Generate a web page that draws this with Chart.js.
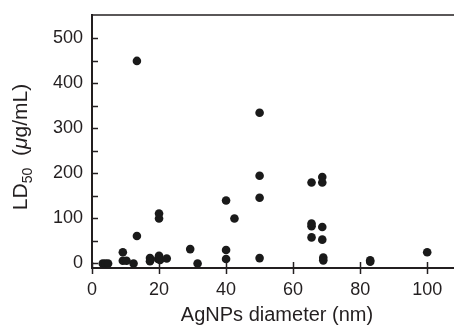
<!DOCTYPE html>
<html>
<head>
<meta charset="utf-8">
<script src="https://cdn.jsdelivr.net/npm/chart.js@4"></script>
<style>
html,body{margin:0;padding:0;background:#fff;}
#wrap{width:454px;height:327px;position:relative;}
</style>
</head>
<body>
<div id="wrap"><canvas id="c" width="454" height="327"></canvas></div>
<script>
// AgNPs diameter (nm)
const diameters = [3.2, 4.0, 4.8, 9.2, 9.2, 10.3, 12.4, 13.4, 13.4, 17.3, 17.3, 19.7, 20.0, 20.3, 20.0, 20.0, 22.3, 29.3, 31.5, 40.0, 40.0, 40.0, 42.5, 50.0, 50.0, 50.0, 50.0, 65.5, 65.5, 65.5, 65.5, 68.7, 68.7, 68.7, 68.7, 69.0, 69.0, 83.0, 83.0, 100.0];
// LD50 (ug/mL)
const ld50 = [0, 0, 0, 25, 6, 6, 0, 61, 450, 12, 5, 10, 17, 8, 100, 111, 11, 32, 0, 10, 30, 140, 100, 12, 146, 195, 335, 58, 83, 89, 180, 53, 81, 180, 192, 13, 7, 4, 7, 25];
const xTickValues = [0, 20, 40, 60, 80, 100];
const yTickValues = [0, 50, 100, 150, 200, 250, 300, 350, 400, 450, 500];
const yLabelValues = [0, 100, 200, 300, 400, 500];
const xTitle = 'AgNPs diameter (nm)';

const FONT = "'Liberation Sans', Arial, Helvetica, sans-serif";
const INK = '#231f20';

const points = diameters.map((d, i) => ({x: d, y: ld50[i]}));

const framePlugin = {
  id: 'frame',
  afterDraw(chart) {
    const ctx = chart.ctx;
    const a = chart.chartArea;
    const xs = chart.scales.x, ys = chart.scales.y;
    ctx.save();
    ctx.strokeStyle = INK;
    // top border
    ctx.lineWidth = 1.7;
    ctx.beginPath();
    ctx.moveTo(a.left - 1, a.top);
    ctx.lineTo(chart.width, a.top);
    ctx.stroke();
    // y ticks (inside)
    ctx.lineWidth = 1.5;
    yTickValues.forEach(v => {
      const py = Math.round(ys.getPixelForValue(v)) + 0.5;
      ctx.beginPath();
      ctx.moveTo(a.left, py);
      ctx.lineTo(a.left + 6, py);
      ctx.stroke();
    });
    // x ticks (crossing)
    xTickValues.forEach(v => {
      const px = Math.round(xs.getPixelForValue(v)) + 0.5;
      ctx.beginPath();
      ctx.moveTo(px, a.bottom - 6);
      ctx.lineTo(px, a.bottom + 6);
      ctx.stroke();
    });
    // x title
    ctx.fillStyle = INK;
    ctx.font = '20px ' + FONT;
    ctx.textAlign = 'center';
    ctx.textBaseline = 'alphabetic';
    ctx.fillText(xTitle, (a.left + a.right) / 2 + 4, 321);
    // y title with subscript
    ctx.translate(27, 147);
    ctx.rotate(-Math.PI / 2);
    ctx.textAlign = 'left';
    const parts = [
      {t: 'LD', f: '21px ' + FONT, dy: 0},
      {t: '50', f: '14px ' + FONT, dy: 5},
      {t: '  (', f: '21px ' + FONT, dy: 0},
      {t: 'μ', f: 'italic 21px ' + FONT, dy: 0},
      {t: 'g/mL)', f: '21px ' + FONT, dy: 0}
    ];
    let total = 0;
    parts.forEach(p => { ctx.font = p.f; p.w = ctx.measureText(p.t).width; total += p.w; });
    let x = -total / 2;
    parts.forEach(p => { ctx.font = p.f; ctx.fillText(p.t, x, p.dy); x += p.w; });
    ctx.restore();
  }
};

new Chart(document.getElementById('c'), {
  type: 'scatter',
  data: {
    datasets: [{
      data: points,
      backgroundColor: '#1a1a1a',
      borderWidth: 0,
      pointRadius: 4.3,
      pointHoverRadius: 4.3
    }]
  },
  options: {
    responsive: false,
    animation: false,
    devicePixelRatio: 1,
    clip: false,
    layout: {autoPadding: false, padding: {top: 15, right: 0, left: 0, bottom: 0}},
    plugins: {legend: {display: false}, tooltip: {enabled: false}},
    scales: {
      x: {
        type: 'linear',
        min: 0,
        max: 108,
        afterBuildTicks: s => { s.ticks = xTickValues.map(v => ({value: v})); },
        afterFit: s => { s.height = 59; s.paddingRight = 0; s.paddingLeft = 0; },
        grid: {display: false, drawTicks: false},
        border: {display: true, color: INK, width: 2},
        ticks: {padding: 11, color: INK, font: {family: FONT, size: 18}, maxRotation: 0,
          callback: v => String(v)}
      },
      y: {
        type: 'linear',
        min: -10,
        max: 552,
        afterBuildTicks: s => { s.ticks = yTickValues.map(v => ({value: v})); },
        afterFit: s => { s.width = 92; s.paddingTop = 0; s.paddingBottom = 0; },
        grid: {display: false, drawTicks: false},
        border: {display: true, color: INK, width: 2},
        ticks: {padding: 9, color: INK, font: {family: FONT, size: 18},
          callback: v => yLabelValues.includes(v) ? String(v) : ''}
      }
    }
  },
  plugins: [framePlugin]
});
</script>
</body>
</html>
